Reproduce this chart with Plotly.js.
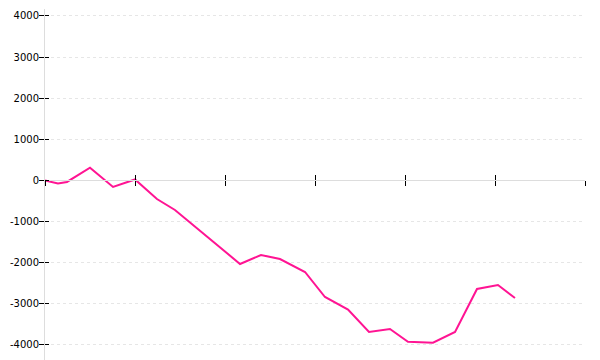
<!DOCTYPE html>
<html>
<head>
<meta charset="utf-8">
<script src="https://cdn.plot.ly/plotly-3.0.1.min.js"></script>
<style>html,body{margin:0;padding:0;background:#fff;}#chart{width:600px;height:360px;}</style>
</head>
<body>
<div id="chart"></div>
<script>
// x positions in axis-tick units, y values
const xVals = [0, 0.144, 0.244, 0.5, 0.756, 1.0, 1.244, 1.444, 2.167, 2.4, 2.611, 2.889, 3.111, 3.367, 3.6, 3.833, 4.033, 4.311, 4.556, 4.8, 5.033, 5.222];
const yVals = [0, -73, -36, 311, -158, 24, -450, -717, -2030, -1811, -1909, -2225, -2833, -3137, -3684, -3611, -3920, -3944, -3684, -2638, -2541, -2857];
const yTicks = [-4000, -3000, -2000, -1000, 0, 1000, 2000, 3000, 4000];

const yRange = [-4365, 4170];
const xRange = [0, 6];
const zeroPos = (0 - yRange[0]) / (yRange[1] - yRange[0]);

const trace = {
  x: xVals, y: yVals, type: 'scatter', mode: 'lines',
  line: {color: '#ff1493', width: 2},
  hoverinfo: 'none', showlegend: false
};
const ghost = {x: [0], y: [0], xaxis: 'x2', yaxis: 'y2', mode: 'markers', marker: {opacity: 0}, showlegend: false, hoverinfo: 'none'};

const layout = {
  width: 600, height: 360,
  margin: {l: 45, r: 15, t: 9, b: 0},
  paper_bgcolor: '#fff', plot_bgcolor: '#fff',
  font: {family: 'DejaVu Sans', size: 10, color: '#000'},
  xaxis: {
    range: xRange, dtick: 1, tick0: 0, showticklabels: false,
    ticks: 'outside', ticklen: 5, tickcolor: '#000', tickwidth: 1,
    showline: true, linecolor: '#ddd', linewidth: 1,
    showgrid: false, zeroline: false,
    anchor: 'free', position: zeroPos
  },
  xaxis2: {
    range: xRange, dtick: 1, tick0: 0, showticklabels: false,
    ticks: 'inside', ticklen: 5, tickcolor: '#000', tickwidth: 1,
    showline: false, showgrid: false, zeroline: false,
    overlaying: 'x', anchor: 'free', position: zeroPos
  },
  yaxis: {
    range: yRange, tickvals: yTicks, ticktext: yTicks.map(String),
    ticks: 'outside', ticklen: 5, tickcolor: '#000', tickwidth: 1,
    showline: true, linecolor: '#ddd', linewidth: 1,
    showgrid: true, gridcolor: '#e6e6e6', griddash: 'dot', gridwidth: 1,
    zeroline: false, ticklabelstandoff: -2,
    tickfont: {family: 'DejaVu Sans', size: 10, color: '#000'}
  },
  yaxis2: {
    range: yRange, tickvals: yTicks, showticklabels: false,
    ticks: 'inside', ticklen: 4, tickcolor: '#000', tickwidth: 1,
    showline: false, showgrid: false, zeroline: false,
    overlaying: 'y', anchor: 'x'
  }
};

Plotly.newPlot('chart', [trace, ghost], layout, {staticPlot: true, displayModeBar: false});
</script>
</body>
</html>
